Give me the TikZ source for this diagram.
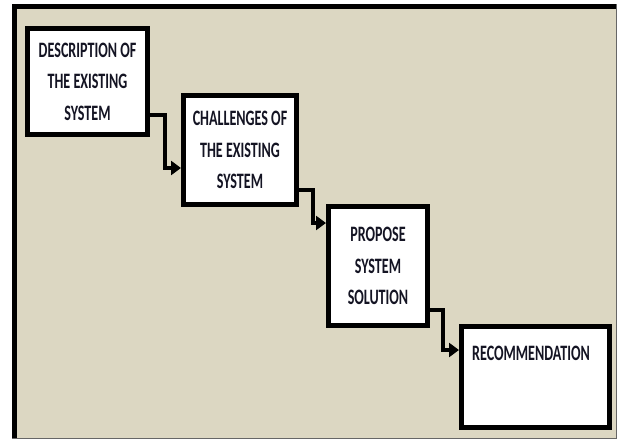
\documentclass[tikz,border=0pt]{standalone}
\usepackage{fontspec}
\newfontfamily\boxfont[FakeStretch=0.64]{Carlito}
\usetikzlibrary{arrows.meta}
\definecolor{bgbeige}{RGB}{220,215,194}
\definecolor{txtc}{RGB}{20,20,35}
\tikzset{
  x=1pt, y=-1pt,
  stepbox/.style={draw=black, fill=white, line width=5pt, inner sep=0pt, align=center,
    font=\boxfont\bfseries\fontsize{22}{31.5}\selectfont, text=txtc},
  conn/.style={draw=black, line width=4pt, -{Triangle[length=10pt,width=14pt]}},
  lbl/.style={inner sep=0pt, font=\boxfont\bfseries\fontsize{22}{31.5}\selectfont, text=txtc}
}
\begin{document}
\begin{tikzpicture}
\useasboundingbox (0,0) rectangle (618,441);
% frame
\fill[bgbeige, draw=black!60, line width=1pt] (12,5) rectangle (616,438);
\draw[black, line width=5pt] (14.5,438) -- (14.5,7) -- (616,7);
% boxes
\node[stepbox, minimum width=120pt, minimum height=106pt] (b1) at (87.5,81.5)
  {DESCRIPTION OF\\THE EXISTING\\SYSTEM};
\node[stepbox, minimum width=113pt, minimum height=109pt] (b2) at (240,150)
  {CHALLENGES OF\\THE EXISTING\\SYSTEM};
\node[stepbox, minimum width=99pt, minimum height=119pt] (b3) at (378,266)
  {PROPOSE\\SYSTEM\\SOLUTION};
\node[stepbox, minimum width=148pt, minimum height=101pt] (b4) at (535.5,377) {};
\node[lbl] (t4) at (531,353) {RECOMMENDATION};
% connectors
\coordinate (k1) at (165,168);
\coordinate (k2) at (313,223);
\coordinate (k3) at (443,350);
\draw[conn] ([yshift=-33.5pt]b1.east) -| (k1) -- ([yshift=-18pt]b2.west);
\draw[conn] ([yshift=-40pt]b2.east) -| (k2) -- ([yshift=43pt]b3.west);
\draw[conn] ([yshift=-44pt]b3.east) -| (k3) -- ([yshift=27pt]b4.west);
\end{tikzpicture}
\end{document}
